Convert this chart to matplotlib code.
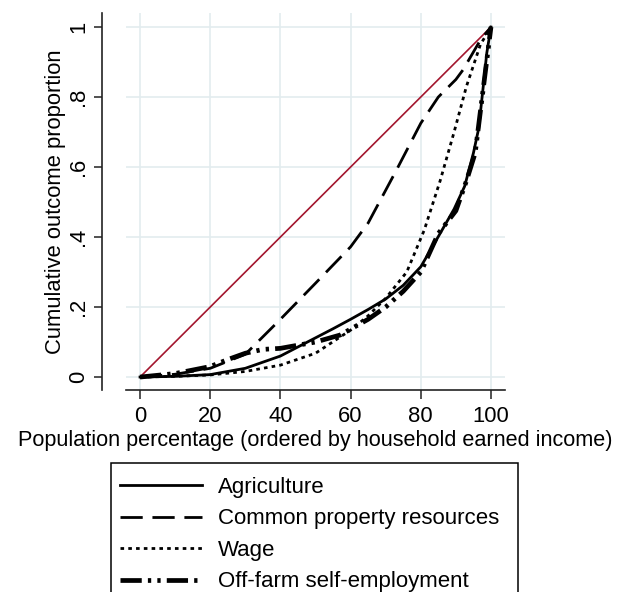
import matplotlib

matplotlib.use("Agg")
import matplotlib.pyplot as plt
from matplotlib.patches import Rectangle

plt.rcParams["font.family"] = ["Liberation Sans", "DejaVu Sans"]

# Lorenz-type curves
agri_x = [0, 10, 20, 30, 40, 50, 55, 60, 65, 70, 75, 80, 85.5, 89.5, 92.5, 95, 96.5, 97.8, 98.8, 100]
agri_y = [0, 0.002, 0.007, 0.025, 0.06, 0.112, 0.138, 0.165, 0.193, 0.223, 0.262, 0.315, 0.41, 0.48, 0.545, 0.64, 0.71, 0.83, 0.925, 1.0]

cpr_x = [0, 10, 20, 30, 40, 50, 60, 65, 73, 80, 85, 90, 92, 97, 100]
cpr_y = [0, 0.008, 0.025, 0.065, 0.165, 0.268, 0.372, 0.44, 0.59, 0.725, 0.80, 0.85, 0.877, 0.963, 1.0]

wage_x = [0, 10, 20, 30, 40, 50, 60, 65, 70, 76, 81, 85.5, 89.5, 93, 97, 100]
wage_y = [0, 0.002, 0.006, 0.016, 0.034, 0.068, 0.134, 0.175, 0.225, 0.30, 0.42, 0.56, 0.70, 0.83, 0.95, 1.0]

offfarm_x = [0, 10, 20, 25, 30, 35, 40, 50, 57, 65, 70, 75, 80, 85, 90, 93, 95.5, 97.5, 100]
offfarm_y = [0, 0.01, 0.03, 0.05, 0.068, 0.079, 0.082, 0.10, 0.12, 0.165, 0.20, 0.245, 0.30, 0.41, 0.475, 0.56, 0.64, 0.80, 1.0]

equality_x = [0, 100]
equality_y = [0, 1]

x_ticks = [0, 20, 40, 60, 80, 100]
y_ticks = [0, 0.2, 0.4, 0.6, 0.8, 1.0]
y_tick_labels = ["0", ".2", ".4", ".6", ".8", "1"]

W, H = 620, 592
fig = plt.figure(figsize=(W / 100, H / 100), dpi=100)
ax = fig.add_axes([126 / W, 1 - 390 / H, 379 / W, 377 / H])

ax.plot(equality_x, equality_y, color="#a3162e", lw=1.2, zorder=2)
ax.plot(agri_x, agri_y, color="black", lw=2.0, ls="-", label="Agriculture", zorder=3)
ax.plot(cpr_x, cpr_y, color="black", lw=2.0, ls=(0, (8, 3.5)),
        label="Common property resources", zorder=3)
ax.plot(wage_x, wage_y, color="black", lw=2.0, ls=(0, (1.3, 1.5)), label="Wage", zorder=3)
ax.plot(offfarm_x, offfarm_y, color="black", lw=3.4, ls=(0, (4.5, 1.3, 0.7, 1.3, 0.7, 1.3)),
        label="Off-farm self-employment", zorder=3)

ax.set_xlim(-4, 104)
ax.set_ylim(-0.037, 1.04)
ax.set_xticks(x_ticks)
ax.set_yticks(y_ticks)
ax.set_yticklabels(y_tick_labels)
ax.grid(True, color="#e3ecef", lw=1.2, zorder=0)
ax.set_axisbelow(True)

for side in ["top", "right"]:
    ax.spines[side].set_visible(False)
ax.spines["left"].set_position(("outward", 17.3))
for side in ["left", "bottom"]:
    ax.spines[side].set_color("#222222")
    ax.spines[side].set_linewidth(1.2)

ax.tick_params(axis="x", direction="out", length=6.5, width=1.1, pad=5, labelsize=15.8,
               color="#222222")
ax.tick_params(axis="y", direction="out", length=5.5, width=1.1, pad=3.5, labelsize=15.8,
               color="#222222", labelrotation=90)
for lbl in ax.get_yticklabels():
    lbl.set_va("center")

ax.set_xlabel("Population percentage (ordered by household earned income)", fontsize=15.6, labelpad=2)
ax.set_ylabel("Cumulative outcome proportion", fontsize=15.8, labelpad=1.5)

# legend box (runs past the bottom edge, as in the reference)
fig.patches.append(Rectangle((111 / W, 1 - 610 / H), 407 / W, 147 / H,
                             transform=fig.transFigure, fill=False,
                             edgecolor="black", lw=1.1, zorder=5))

leg = fig.legend(
    loc="upper left",
    bbox_to_anchor=(120 / W, 1 - 477 / H - 0.3, 390 / W, 0.3),
    mode="expand",
    borderaxespad=0,
    borderpad=0,
    handlelength=3.7,
    handletextpad=0.7,
    labelspacing=0.47,
    fontsize=16,
    frameon=False,
)

fig.savefig("out.png", dpi=100)
